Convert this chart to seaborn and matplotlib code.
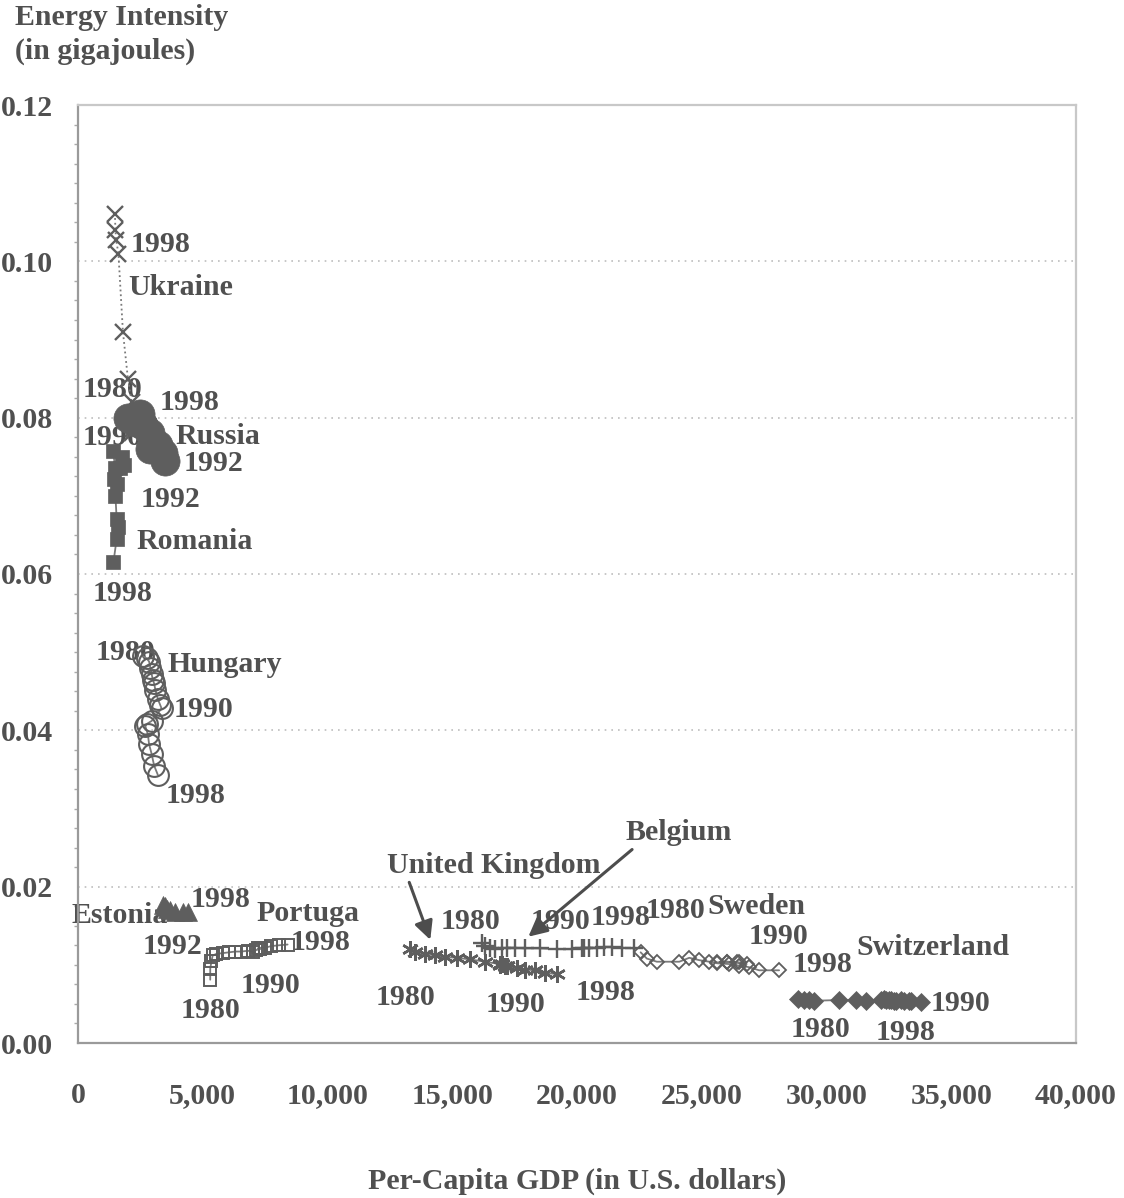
import numpy as np
import pandas as pd
import matplotlib
matplotlib.use("Agg")
import matplotlib.pyplot as plt
from matplotlib.ticker import FuncFormatter, MultipleLocator
import seaborn as sns

# ---- data: per-capita GDP (US$) and energy intensity (GJ) ----
ukraine_gdp = [2150, 2200, 2250, 2300, 2250, 2150, 2000, 1800, 1620, 1530, 1500, 1480]
ukraine_ei = [0.0780, 0.0785, 0.0790, 0.0795, 0.0800, 0.0820, 0.0850, 0.0910, 0.1010, 0.1027, 0.1040, 0.1060]

russia_gdp = [2000, 2300, 2600, 2900, 3200, 3400, 3500, 2900, 2600, 2500]
russia_ei = [0.0800, 0.0795, 0.0790, 0.0780, 0.0765, 0.0755, 0.0745, 0.0760, 0.0790, 0.0805]

romania_gdp = [1700, 1850, 1750, 1400, 1500, 1450, 1550, 1500, 1550, 1600, 1550, 1420]
romania_ei = [0.0735, 0.0740, 0.0750, 0.0757, 0.0735, 0.0722, 0.0715, 0.0700, 0.0670, 0.0660, 0.0645, 0.0615]

hungary_gdp = [2600, 2750, 2850, 2900, 2950, 3000, 3050, 3100, 3200, 3300, 3350,
               2950, 2750, 2700, 2800, 2850, 2950, 3050, 3200]
hungary_ei = [0.0495, 0.0492, 0.0488, 0.0480, 0.0472, 0.0465, 0.0460, 0.0452, 0.0440, 0.0432, 0.0428,
              0.0412, 0.0408, 0.0405, 0.0395, 0.0382, 0.0370, 0.0355, 0.0343]

estonia_gdp = [3550, 3400, 3500, 3700, 3900, 4200, 4400]
estonia_ei = [0.0172, 0.0176, 0.0175, 0.0170, 0.0168, 0.0167, 0.0167]

portugal_gdp = [5300, 5300, 5350, 5400, 5550, 5800, 6050, 6300, 6550, 6800, 7000,
                7150, 7300, 7200, 7350, 7500, 7750, 8050, 8400]
portugal_ei = [0.0081, 0.0095, 0.0105, 0.0112, 0.0114, 0.0115, 0.0116, 0.0117, 0.0117, 0.0118, 0.0117,
               0.0119, 0.0120, 0.0121, 0.0122, 0.0122, 0.0124, 0.0125, 0.0126]

uk_gdp = [13300, 13500, 13900, 14300, 14700, 15200, 15700, 16300, 16900, 17100, 17200,
          17000, 16900, 17200, 17600, 17900, 18300, 18700, 19200]
uk_ei = [0.0120, 0.0117, 0.0114, 0.0112, 0.0110, 0.0109, 0.0107, 0.0104, 0.0101, 0.0099, 0.0099,
         0.0101, 0.0100, 0.0098, 0.0096, 0.0094, 0.0093, 0.0090, 0.0088]

belgium_gdp = [16200, 16300, 16500, 16700, 17000, 17200, 17500, 17900, 18500, 19200, 19800,
               20200, 20500, 20300, 20800, 21100, 21400, 21800, 22300]
belgium_ei = [0.0128, 0.0124, 0.0121, 0.0120, 0.0121, 0.0122, 0.0122, 0.0121, 0.0121, 0.0120, 0.0120,
              0.0121, 0.0121, 0.0122, 0.0122, 0.0123, 0.0123, 0.0122, 0.0121]

sweden_gdp = [22550, 22800, 23200, 24100, 24500, 24900, 25300, 25600, 26000, 26400, 26800,
              26500, 26000, 25600, 26100, 26500, 26900, 27300, 28100]
sweden_ei = [0.0116, 0.0108, 0.0104, 0.0104, 0.0109, 0.0106, 0.0104, 0.0103, 0.0104, 0.0103, 0.0101,
             0.0103, 0.0104, 0.0102, 0.0101, 0.0099, 0.0097, 0.0093, 0.0093]

swiss_gdp = [28850, 29100, 29300, 29500, 30500, 31200, 31600, 32200, 32700, 33300, 33800,
             33400, 33000, 32600, 32400, 32300, 32500, 32800, 33100]
swiss_ei = [0.0056, 0.0055, 0.0055, 0.0054, 0.0055, 0.0055, 0.0054, 0.0055, 0.0054, 0.0054, 0.0053,
            0.0054, 0.0055, 0.0055, 0.0055, 0.0056, 0.0055, 0.0054, 0.0054]

x_ticks = [0, 5000, 10000, 15000, 20000, 25000, 30000, 35000, 40000]
y_ticks = [0.00, 0.02, 0.04, 0.06, 0.08, 0.10, 0.12]

# point annotations: (text, gdp, intensity, horizontal alignment)
labels = [
    ("1998", 3290, 0.1022, "center"), ("Ukraine", 4130, 0.0967, "center"),
    ("1990", 200, 0.0774, "left"),
    ("1980", 1400, 0.0836, "center"), ("1998", 4490, 0.0819, "center"),
    ("Russia", 5620, 0.0776, "center"), ("1992", 5420, 0.0741, "center"),
    ("1992", 3690, 0.0695, "center"), ("Romania", 4690, 0.0642, "center"),
    ("1998", 1805, 0.0575, "center"),
    ("1980", 1885, 0.0499, "center"), ("Hungary", 5900, 0.0484, "center"),
    ("1990", 5015, 0.0427, "center"), ("1998", 4730, 0.0317, "center"),
    ("Estonia", -250, 0.01625, "left"), ("1998", 5700, 0.0183, "center"),
    ("1992", 3770, 0.0124, "center"),
    ("Portuga", 9200, 0.0166, "center"), ("1998", 9710, 0.0129, "center"),
    ("1990", 7700, 0.0074, "center"), ("1980", 5300, 0.0042, "center"),
    ("1980", 13120, 0.0058, "center"), ("1990", 17530, 0.0049, "center"),
    ("1998", 21140, 0.0065, "center"),
    ("1980", 15730, 0.0155, "center"), ("1990", 19350, 0.0155, "center"),
    ("1998", 21750, 0.0160, "center"),
    ("1980", 23950, 0.0170, "center"), ("Sweden", 27200, 0.0174, "center"),
    ("1990", 28080, 0.0136, "center"), ("1998", 29850, 0.0100, "center"),
    ("Switzerland", 34260, 0.0122, "center"), ("1980", 29770, 0.0017, "center"),
    ("1998", 33180, 0.0013, "center"), ("1990", 35390, 0.0051, "center"),
]

sns.set_theme(style="white")
plt.rcParams["font.family"] = ["Liberation Serif", "DejaVu Serif"]
plt.rcParams["font.weight"] = "bold"

FS = 21.5
TXT = "#505050"
MK = "#5e5e5e"
LN = "#7a7a7a"

fig = plt.figure(figsize=(11.24, 11.98), dpi=100)
fig.patch.set_facecolor("white")
ax = fig.add_axes([78 / 1124, 155 / 1198, 998 / 1124, 938 / 1198])
ax.set_facecolor("white")

series = [
    ("Ukraine", ukraine_gdp, ukraine_ei, dict(marker="x", ms=12, mew=1.7, mfc=MK, mec=MK), ":"),
    ("Russia", russia_gdp, russia_ei, dict(marker="o", ms=21, mew=0.5, mfc=MK, mec=MK), "-"),
    ("Romania", romania_gdp, romania_ei, dict(marker="s", ms=10, mew=0.5, mfc=MK, mec=MK), "-"),
    ("Hungary", hungary_gdp, hungary_ei, dict(marker="o", ms=15, mew=1.5, mfc="none", mec=MK), "-"),
    ("Estonia", estonia_gdp, estonia_ei, dict(marker="^", ms=13, mew=0.5, mfc=MK, mec=MK), "-"),
    ("Portugal", portugal_gdp, portugal_ei, dict(marker="s", ms=9, mew=1.4, mfc="none", mec=MK), "-"),
    ("United Kingdom", uk_gdp, uk_ei, dict(marker=(6, 2, 0), ms=12, mew=1.8, mfc=MK, mec=MK), "-"),
    ("Belgium", belgium_gdp, belgium_ei, dict(marker="+", ms=13, mew=1.7, mfc=MK, mec=MK), "-"),
    ("Sweden", sweden_gdp, sweden_ei, dict(marker="D", ms=7.5, mew=1.3, mfc="none", mec=MK), "-"),
    ("Switzerland", swiss_gdp, swiss_ei, dict(marker="D", ms=9, mew=0.5, mfc=MK, mec=MK), "-"),
]

for name, gx, gy, mstyle, ls in series:
    df = pd.DataFrame({"gdp": gx, "ei": gy})
    sns.lineplot(data=df, x="gdp", y="ei", ax=ax, sort=False, estimator=None,
                 color=LN, lw=1.3, linestyle=ls, zorder=3, **mstyle)

for text, gx, gy, ha in labels:
    ax.text(gx, gy, text, ha=ha, va="center", fontsize=FS, color=TXT,
            fontweight="bold", zorder=2)

arrow = dict(arrowstyle="-|>", color="#4d4d4d", lw=2.2, mutation_scale=28,
             shrinkA=0, shrinkB=0)
ax.annotate("United Kingdom", xy=(14120, 0.0132), xytext=(16650, 0.0227),
            ha="center", va="center", fontsize=FS, color=TXT, fontweight="bold",
            arrowprops=dict(arrow, relpos=(0.1, 0.0)), zorder=4)
ax.annotate("Belgium", xy=(18050, 0.0136), xytext=(24070, 0.0269),
            ha="center", va="center", fontsize=FS, color=TXT, fontweight="bold",
            arrowprops=dict(arrow, relpos=(0.1, 0.0)), zorder=4)

ax.set_xlim(0, 40000)
ax.set_ylim(0, 0.12)
ax.set_xticks(x_ticks)
ax.set_yticks(y_ticks)
ax.xaxis.set_major_formatter(FuncFormatter(lambda v, p: f"{int(v):,}"))
ax.yaxis.set_major_formatter(FuncFormatter(lambda v, p: f"{v:.2f}"))
ax.yaxis.set_minor_locator(MultipleLocator(0.0025))
ax.tick_params(axis="both", which="major", labelsize=FS, labelcolor=TXT,
               color="#888888", length=6, width=1.2, direction="out")
ax.tick_params(axis="x", pad=22)
ax.tick_params(axis="y", pad=12)
ax.tick_params(axis="y", which="minor", length=3, color="#aaaaaa", left=True)
for lab in ax.get_xticklabels() + ax.get_yticklabels():
    lab.set_fontweight("bold")

ax.grid(axis="y", linestyle=(0, (1, 3)), color="#bdbdbd", lw=1.2)
ax.set_axisbelow(True)
for side in ["left", "bottom"]:
    ax.spines[side].set_color("#9a9a9a")
    ax.spines[side].set_linewidth(1.6)
for side in ["top", "right"]:
    ax.spines[side].set_color("#c8c8c8")
    ax.spines[side].set_linewidth(1.6)

ax.set_xlabel("")
ax.set_ylabel("")
fig.text(15 / 1124, 1 - 4 / 1198, "Energy Intensity\n(in gigajoules)", ha="left", va="top",
         fontsize=FS, color=TXT, fontweight="bold", linespacing=1.3)
fig.text(577 / 1124, 1 - 1181 / 1198, "Per-Capita GDP (in U.S. dollars)", ha="center",
         va="center", fontsize=FS, color=TXT, fontweight="bold")

fig.savefig("out.png", dpi=100, facecolor="white")
